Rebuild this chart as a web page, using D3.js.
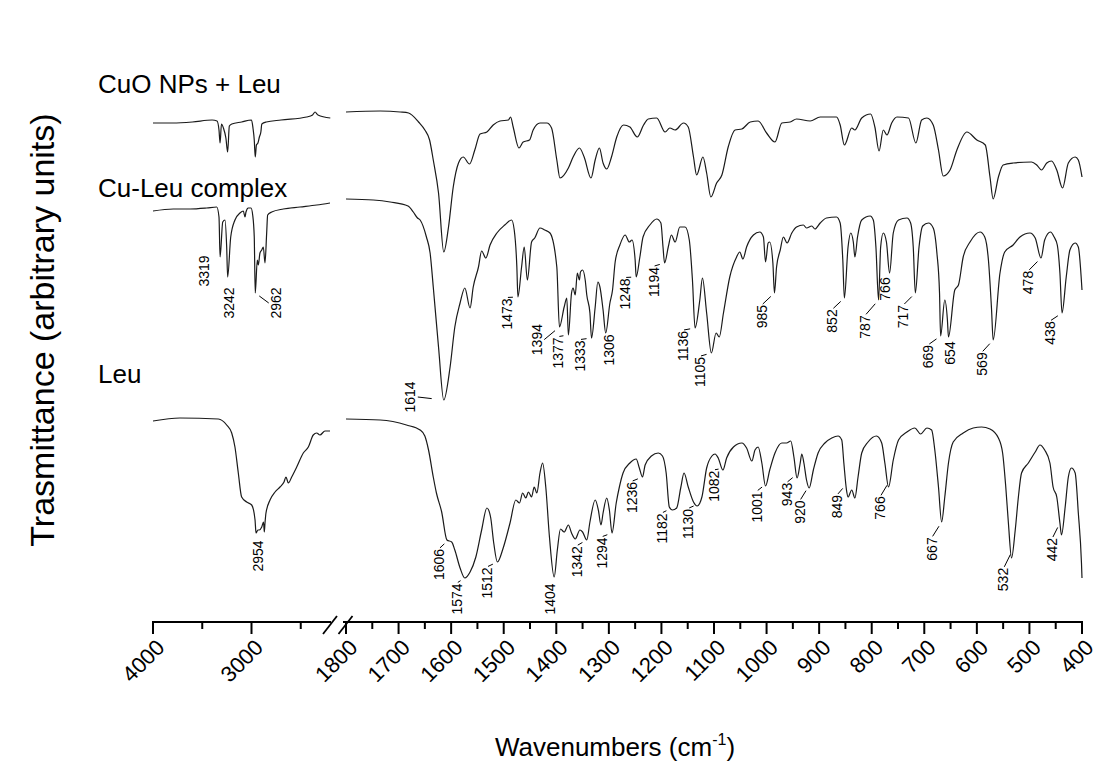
<!DOCTYPE html>
<html><head><meta charset="utf-8">
<script src="https://cdn.jsdelivr.net/npm/d3@7"></script>
<style>body{margin:0;background:#fff}svg{display:block}</style>
</head><body>
<svg id="chart" width="1102" height="771"></svg>
<script>
// ---------- DATA (wavenumber cm-1, transmittance in arbitrary units) ----------
const seriesNames = ["CuO NPs + Leu", "Cu-Leu complex", "Leu"];

const cuoLeuHigh = [[4000,477],[3800,477],[3600,478],[3400,480],[3350,479],[3330,470],[3319,457],[3305,476],[3285,472],[3260,462],[3242,448],[3225,474],[3200,476],[3100,478],[3000,480],[2985,472],[2972,460],[2962,443],[2950,455],[2935,457],[2920,463],[2905,468],[2895,476],[2850,478],[2700,480],[2440,483],[2380,485],[2355,488],[2325,485],[2200,482]];

const cuoLeuLow = [[1800,488],[1735,489],[1697,488],[1681,487],[1662,478],[1650,470],[1641,460],[1634,440],[1624,407],[1614,348],[1605,373],[1596,413],[1586,437],[1577,443],[1565,436],[1555,450],[1545,466],[1532,468],[1520,475],[1507,479],[1491,480],[1487,483],[1482,473],[1471,452],[1463,458],[1451,460],[1444,470],[1431,477],[1418,477],[1409,472],[1399,440],[1393,422],[1377,432],[1368,443],[1356,452],[1347,443],[1334,422],[1326,440],[1318,452],[1311,437],[1304,431],[1295,443],[1285,463],[1272,475],[1260,473],[1246,463],[1234,475],[1225,481],[1209,482],[1193,468],[1184,472],[1174,470],[1158,477],[1149,473],[1139,443],[1133,425],[1121,443],[1114,427],[1106,403],[1095,417],[1085,425],[1073,453],[1060,470],[1047,471],[1031,478],[1016,479],[1000,467],[984,458],[971,477],[955,478],[943,481],[917,479],[898,483],[867,483],[860,475],[852,455],[838,472],[832,470],[819,482],[802,486],[794,473],[786,449],[778,470],[771,465],[762,477],[752,483],[730,482],[716,457],[705,480],[695,482],[683,475],[673,450],[664,424],[651,430],[638,450],[619,468],[600,460],[584,455],[575,423],[569,401],[559,423],[550,435],[531,437],[496,438],[486,435],[477,430],[467,437],[458,439],[448,430],[437,412],[426,437],[413,443],[407,440],[400,423]];

const complexHigh = [[4000,389],[3794,391],[3624,391],[3455,392],[3353,393],[3330,383],[3319,343],[3292,378],[3269,380],[3252,353],[3242,323],[3211,363],[3168,380],[3117,387],[3083,389],[3066,383],[3056,388],[3033,392],[3005,392],[2988,385],[2972,363],[2962,307],[2941,340],[2931,335],[2914,347],[2896,350],[2880,353],[2863,337],[2846,367],[2836,385],[2795,388],[2677,391],[2508,393],[2338,395],[2203,397]];

const complexLow = [[1800,401],[1748,400],[1716,398],[1682,394],[1672,388],[1664,382],[1659,380],[1647,363],[1640,347],[1634,313],[1624,253],[1614,200],[1602,233],[1593,273],[1583,297],[1574,312],[1564,292],[1558,313],[1548,333],[1542,349],[1534,342],[1526,355],[1513,367],[1498,375],[1485,380],[1480,370],[1475,333],[1473,303],[1466,333],[1461,353],[1455,320],[1447,358],[1441,362],[1431,372],[1422,370],[1412,367],[1399,333],[1394,273],[1385,293],[1380,302],[1377,265],[1371,307],[1368,312],[1364,305],[1360,327],[1356,320],[1354,328],[1350,330],[1345,320],[1342,305],[1336,287],[1333,262],[1326,293],[1321,318],[1317,313],[1311,290],[1306,267],[1298,297],[1293,310],[1288,338],[1279,355],[1269,365],[1261,358],[1256,360],[1250,340],[1248,323],[1241,343],[1235,363],[1222,375],[1209,381],[1201,377],[1197,353],[1194,337],[1187,353],[1181,365],[1174,358],[1165,373],[1155,373],[1147,360],[1141,320],[1136,272],[1127,300],[1122,322],[1114,287],[1105,247],[1096,267],[1090,263],[1082,287],[1070,323],[1057,343],[1051,348],[1045,341],[1038,353],[1025,365],[1013,368],[1006,363],[1002,338],[997,357],[994,358],[988,337],[985,307],[981,333],[974,350],[968,363],[961,357],[952,367],[943,373],[930,375],[924,372],[914,374],[908,371],[898,377],[886,382],[867,383],[860,377],[855,340],[852,302],[845,353],[840,367],[835,358],[832,343],[827,363],[819,380],[803,384],[797,380],[792,353],[787,300],[783,353],[778,367],[772,358],[766,327],[759,367],[749,380],[733,382],[726,377],[721,353],[717,307],[710,353],[703,374],[692,377],[683,372],[676,347],[671,307],[669,264],[661,300],[656,280],[654,263],[642,310],[635,315],[626,343],[613,358],[594,368],[585,363],[578,340],[572,290],[569,260],[556,327],[547,348],[531,355],[518,363],[499,367],[489,362],[478,342],[471,360],[460,368],[453,363],[447,355],[442,327],[438,287],[430,323],[423,350],[413,357],[407,353],[400,310]];

const leuHigh = [[4000,179],[3726,182],[3337,181],[3252,175],[3201,167],[3168,153],[3134,127],[3100,103],[3049,98],[2998,95],[2964,80],[2954,67],[2935,70],[2921,70],[2896,73],[2878,78],[2870,68],[2863,77],[2853,87],[2812,100],[2761,108],[2711,113],[2670,118],[2650,123],[2626,117],[2592,123],[2541,133],[2474,147],[2423,153],[2373,165],[2338,167],[2305,165],[2254,169],[2203,169]];

const leuLow = [[1800,181],[1735,180],[1685,175],[1659,170],[1650,164],[1643,150],[1634,123],[1628,107],[1618,88],[1608,60],[1599,58],[1593,50],[1583,32],[1574,22],[1564,28],[1553,43],[1542,70],[1532,92],[1525,83],[1519,57],[1512,38],[1501,52],[1488,77],[1477,100],[1470,97],[1464,107],[1458,102],[1453,108],[1447,103],[1442,113],[1437,107],[1431,127],[1426,137],[1420,113],[1413,63],[1404,23],[1398,50],[1392,71],[1385,68],[1377,75],[1371,67],[1364,61],[1355,70],[1350,68],[1342,60],[1336,78],[1326,100],[1320,90],[1315,75],[1311,87],[1304,102],[1299,90],[1294,67],[1286,97],[1280,113],[1273,127],[1260,137],[1248,141],[1242,132],[1236,123],[1231,135],[1219,144],[1206,147],[1198,144],[1191,127],[1185,93],[1179,90],[1171,92],[1163,113],[1157,127],[1149,113],[1139,98],[1132,94],[1123,103],[1114,132],[1104,144],[1098,146],[1092,142],[1083,130],[1076,142],[1063,153],[1047,157],[1038,152],[1028,139],[1022,150],[1016,153],[1009,137],[1002,114],[994,130],[984,147],[971,157],[962,157],[954,159],[948,143],[942,122],[936,137],[933,146],[929,137],[924,120],[919,112],[911,130],[902,147],[889,157],[876,162],[864,164],[857,160],[853,137],[848,110],[845,103],[838,110],[832,102],[826,123],[819,147],[807,158],[791,164],[781,157],[775,137],[768,113],[759,140],[749,160],[733,168],[718,172],[707,166],[695,172],[686,170],[680,150],[673,113],[667,78],[661,103],[654,137],[645,158],[626,167],[607,172],[591,173],[575,171],[559,162],[551,147],[545,113],[540,77],[534,42],[527,70],[521,103],[515,127],[502,137],[489,148],[480,155],[471,150],[461,137],[455,113],[448,103],[442,77],[439,65],[432,93],[426,123],[420,132],[413,127],[407,87],[401,37],[400,22]];

const complexPeaks = [3319,3242,2962,1614,1473,1394,1377,1333,1306,1248,1194,1136,1105,985,852,787,766,717,669,654,569,478,438];
const leuPeaks = [2954,1606,1574,1512,1404,1342,1294,1236,1182,1130,1082,1001,943,920,849,766,667,532,442];

const highTicksMajor = [4000,3000];
const highTicksMinor = [3500,2500];
const lowTicksMajor = [1800,1700,1600,1500,1400,1300,1200,1100,1000,900,800,700,600,500,400];
const lowTicksMinor = [1750,1650,1550,1450,1350,1250,1150,1050,950,850,750,650,550,450];
const tickLabelsHigh = ["4000","3000"];
const tickLabelsLow = ["1800","1700","1600","1500","1400","1300","1200","1100","1000","900","800","700","600","500","400"];

// ---------- LAYOUT (label offsets from the peak, px) ----------
const complexLabelOffsets = [[-16,14],[1,26],[21,10],[-33.5,-3],[-11,17],[-22.7,12.6],[-10,18],[-11.5,18],[3,17],[-11,17],[-11,19],[-12,18],[-11.4,19],[-12.7,23.7],[-12,23],[-13.5,27],[-4.6,16],[-12,23.7],[-12.3,20.7],[1.5,16],[-11.4,24],[-12.7,24.5],[-12,20]];
const leuLabelOffsets = [[1.5,23],[-9,24],[-8,21],[-10.4,21],[-4,22],[-10,21.7],[-10.3,20],[-10.8,20.5],[-9,20],[-10,20],[-9.5,18],[-9.3,23],[-10,20],[-9,25.7],[-9,22],[-9.6,27],[-10,27],[-9.3,29.5],[-8,26.7]];
const noLeader = [3319, 3242, 2954];

const W = 1102, H = 771;
const axisY = 622;
const svg = d3.select("#chart");
svg.append("rect").attr("width", W).attr("height", H).attr("fill", "#fff");

const xHigh = d3.scaleLinear().domain([4000, 2200]).range([153, 330.3]);
const xLow = d3.scaleLinear().domain([1800, 400]).range([346, 1082]);
const y = d3.scaleLinear().domain([0, 540]).range([600, 60]);

const FONT = "Arial, 'Liberation Sans', sans-serif";

function drawLine(data, xs) {
  const line = d3.line().x(d => xs(d[0])).y(d => y(d[1])).curve(d3.curveMonotoneX);
  svg.append("path").datum(data).attr("d", line)
    .attr("fill", "none").attr("stroke", "#1a1a1a").attr("stroke-width", 1.2)
    .attr("stroke-linejoin", "round");
}
[[cuoLeuHigh, cuoLeuLow], [complexHigh, complexLow], [leuHigh, leuLow]].forEach(([hi, lo]) => {
  drawLine(hi, xHigh);
  drawLine(lo, xLow);
});

// series names
const nameBase = [cuoLeuHigh[0][1], complexHigh[0][1], leuHigh[0][1]];
const nameDy = [30, 14, 38];
seriesNames.forEach((n, i) => {
  svg.append("text").attr("x", 98).attr("y", y(nameBase[i]) - nameDy[i])
    .attr("font-family", FONT).attr("font-size", 26).attr("fill", "#000").text(n);
});

// peak labels
function interp(data, wn) {
  for (let i = 0; i < data.length - 1; i++) {
    const a = data[i], b = data[i + 1];
    if (wn <= a[0] && wn >= b[0]) {
      const t = (a[0] - wn) / (a[0] - b[0] || 1);
      return a[1] + t * (b[1] - a[1]);
    }
  }
  return data[data.length - 1][1];
}
function drawPeaks(peaks, offsets, hi, lo) {
  peaks.forEach((p, i) => {
    const isHigh = p > 2000;
    const xs = isHigh ? xHigh : xLow;
    const px = xs(p), py = y(interp(isHigh ? hi : lo, p));
    const dx = offsets[i][0], dy = offsets[i][1];
    const cx = px + dx, cy = py + dy;
    const t = svg.append("text")
      .attr("transform", `translate(${cx},${cy}) rotate(-90)`)
      .attr("text-anchor", "middle").attr("dy", "0.36em")
      .attr("font-family", FONT).attr("font-size", 14).attr("fill", "#000")
      .text(String(p));
    if (noLeader.includes(p) || Math.abs(dx) < 5) return;
    const len = t.node().getComputedTextLength();
    const sgn = dx < 0 ? 1 : -1;
    let sx, sy;
    if (Math.abs(dx) > Math.abs(dy)) { sx = cx + sgn * 7.5; sy = cy; }
    else { sx = cx + sgn * 1; sy = cy - len / 2 - 1; }
    let vx = px - sx, vy = py - sy; const dist = Math.hypot(vx, vy);
    vx /= dist; vy /= dist;
    const ll = Math.min(dist - 5, 14);
    if (ll > 2.5) {
      svg.append("line").attr("x1", sx).attr("y1", sy).attr("x2", sx + vx * ll).attr("y2", sy + vy * ll)
        .attr("stroke", "#000").attr("stroke-width", 1);
    }
  });
}
drawPeaks(complexPeaks, complexLabelOffsets, complexHigh, complexLow);
drawPeaks(leuPeaks, leuLabelOffsets, leuHigh, leuLow);

// ---------- AXIS ----------
const ax = svg.append("g").attr("stroke", "#000").attr("stroke-width", 2);
ax.append("line").attr("x1", xHigh(4000) - 1).attr("x2", 331).attr("y1", axisY).attr("y2", axisY);
ax.append("line").attr("x1", 343).attr("x2", xLow(400) + 1).attr("y1", axisY).attr("y2", axisY);
highTicksMajor.forEach(v => ax.append("line").attr("x1", xHigh(v)).attr("x2", xHigh(v)).attr("y1", axisY).attr("y2", axisY + 12));
highTicksMinor.forEach(v => ax.append("line").attr("x1", xHigh(v)).attr("x2", xHigh(v)).attr("y1", axisY).attr("y2", axisY + 7));
lowTicksMajor.forEach(v => ax.append("line").attr("x1", xLow(v)).attr("x2", xLow(v)).attr("y1", axisY).attr("y2", axisY + 12));
lowTicksMinor.forEach(v => ax.append("line").attr("x1", xLow(v)).attr("x2", xLow(v)).attr("y1", axisY).attr("y2", axisY + 7));
// break marks
[330, 345.5].forEach(c => ax.append("line").attr("x1", c - 7).attr("y1", axisY + 12).attr("x2", c + 7).attr("y2", axisY - 6).attr("stroke-width", 1.8));

function tickLabel(xp, txt) {
  svg.append("text").attr("transform", `translate(${xp + 2},${axisY + 16}) rotate(-45)`)
    .attr("text-anchor", "end").attr("dy", "0.7em")
    .attr("font-family", FONT).attr("font-size", 22).attr("fill", "#000").text(txt);
}
highTicksMajor.forEach((v, i) => tickLabel(xHigh(v), tickLabelsHigh[i]));
lowTicksMajor.forEach((v, i) => tickLabel(xLow(v), tickLabelsLow[i]));

// axis titles
const xt = svg.append("text").attr("x", 615).attr("y", 756).attr("text-anchor", "middle")
  .attr("font-family", FONT).attr("font-size", 26).attr("fill", "#000");
xt.append("tspan").text("Wavenumbers (cm");
xt.append("tspan").attr("dy", -11).attr("font-size", 16).text("-1");
xt.append("tspan").attr("dy", 11).text(")");

svg.append("text").attr("transform", "translate(54,330) rotate(-90)").attr("text-anchor", "middle")
  .attr("font-family", FONT).attr("font-size", 34).attr("fill", "#000")
  .text("Trasmittance (arbitrary units)");
</script>
</body></html>
